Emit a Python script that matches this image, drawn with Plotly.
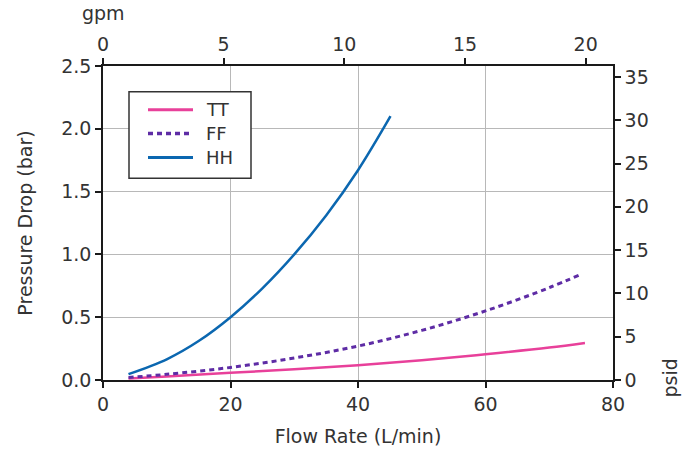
import plotly.graph_objects as go

# Data (Flow Rate L/min vs Pressure Drop bar)
tt_x = [4.0, 10, 20, 30, 40, 50, 60, 70, 75.6]
tt_y = [0.012, 0.028, 0.057, 0.086, 0.118, 0.158, 0.205, 0.258, 0.295]

ff_x = [4.0, 10, 20, 30, 40, 50, 60, 70, 74.9]
ff_y = [0.020, 0.045, 0.100, 0.175, 0.270, 0.395, 0.550, 0.735, 0.840]

hh_x = [4.0, 10, 15, 20, 25, 30, 35, 40, 45.1]
hh_y = [0.047, 0.165, 0.310, 0.500, 0.730, 1.000, 1.310, 1.670, 2.100]

series_names = ["TT", "FF", "HH"]
series_colors = ["#E8409A", "#5E2CA5", "#0B67B0"]
series_dash = ["solid", "5px,4px", "solid"]
series_width = [2.5, 3, 2.5]

x_ticks = [0, 20, 40, 60, 80]
y_ticks = [0.0, 0.5, 1.0, 1.5, 2.0, 2.5]
gpm_ticks = [0, 5, 10, 15, 20]
psi_ticks = [0, 5, 10, 15, 20, 25, 30, 35]

L_PER_GAL = 3.78541
PSI_PER_BAR = 14.5038
X_MAX = 80
Y_MAX = 2.5

FONT = "DejaVu Sans"
TXT = "#333333"
FS = 19

# plot-area geometry (pixels) used to place the hand-drawn legend
W, H = 691, 456
ML, MR, MT, MB = 103, 78, 66, 74
PW, PH = W - ML - MR, H - MT - MB


def px(xp):
    return (xp - ML) / PW


def py(yp):
    return 1 - (yp - MT) / PH


fig = go.Figure()
for xs, ys, nm, col, dsh, wd in zip([tt_x, ff_x, hh_x], [tt_y, ff_y, hh_y], series_names,
                                   series_colors, series_dash, series_width):
    fig.add_trace(go.Scatter(x=xs, y=ys, name=nm, mode="lines", line_shape="spline",
                             line=dict(color=col, width=wd, dash=dsh), showlegend=False))
# invisible trace to anchor secondary axes
fig.add_trace(go.Scatter(x=[None], y=[None], xaxis="x2", yaxis="y2", showlegend=False,
                         hoverinfo="skip", mode="lines"))

axis_common = dict(showline=True, linecolor="#1a1a1a", linewidth=1.5, ticks="outside",
                   ticklen=6, tickwidth=1.5, tickcolor="#1a1a1a",
                   tickfont=dict(family=FONT, size=FS, color=TXT), zeroline=False)

shapes = [dict(type="rect", xref="paper", yref="paper",
               x0=px(129), x1=px(251), y0=py(179), y1=py(92),
               line=dict(color="#333333", width=1.5), fillcolor="white", layer="above")]
annotations = []
for i, (nm, col, dsh, wd) in enumerate(zip(series_names, series_colors, series_dash,
                                           series_width)):
    yy = 110 + 24 * i
    shapes.append(dict(type="line", xref="paper", yref="paper", x0=px(148), x1=px(193),
                       y0=py(yy), y1=py(yy), line=dict(color=col, width=wd + 0.5, dash=dsh),
                       layer="above"))
    annotations.append(dict(text=nm, xref="paper", yref="paper", x=px(204), y=py(yy),
                            xanchor="left", yanchor="middle", showarrow=False,
                            font=dict(family=FONT, size=18, color=TXT)))

annotations += [
    dict(text="gpm", xref="paper", yref="paper", x=0.0, y=1.0, yshift=40,
         xanchor="center", yanchor="bottom", showarrow=False,
         font=dict(family=FONT, size=FS, color=TXT)),
    dict(text="psid", xref="paper", yref="paper", x=1.0, xshift=56, y=0.0, yshift=-20,
         xanchor="center", yanchor="bottom", textangle=-90, showarrow=False,
         font=dict(family=FONT, size=FS, color=TXT)),
]

fig.update_layout(
    width=W, height=H,
    margin=dict(l=ML, r=MR, t=MT, b=MB),
    paper_bgcolor="white", plot_bgcolor="white",
    font=dict(family=FONT, size=FS, color=TXT),
    xaxis=dict(range=[0, X_MAX], tickvals=x_ticks, showgrid=True, gridcolor="#B8B8B8",
               gridwidth=1.3,
               title=dict(text="Flow Rate (L/min)", font=dict(family=FONT, size=FS, color=TXT),
                          standoff=16),
               **axis_common),
    yaxis=dict(range=[0, Y_MAX], tickvals=y_ticks, tickformat=".1f", showgrid=True,
               gridcolor="#B8B8B8", gridwidth=1.3,
               title=dict(text="Pressure Drop (bar)", font=dict(family=FONT, size=FS, color=TXT),
                          standoff=24),
               **axis_common),
    xaxis2=dict(range=[0, X_MAX / L_PER_GAL], tickvals=gpm_ticks, overlaying="x", side="top",
                anchor="y", showgrid=False, **axis_common),
    yaxis2=dict(range=[0, Y_MAX * PSI_PER_BAR], tickvals=psi_ticks, overlaying="y", side="right",
                anchor="x", showgrid=False, **axis_common),
    shapes=shapes,
    annotations=annotations,
    showlegend=False,
)

fig.write_html("out.html")
